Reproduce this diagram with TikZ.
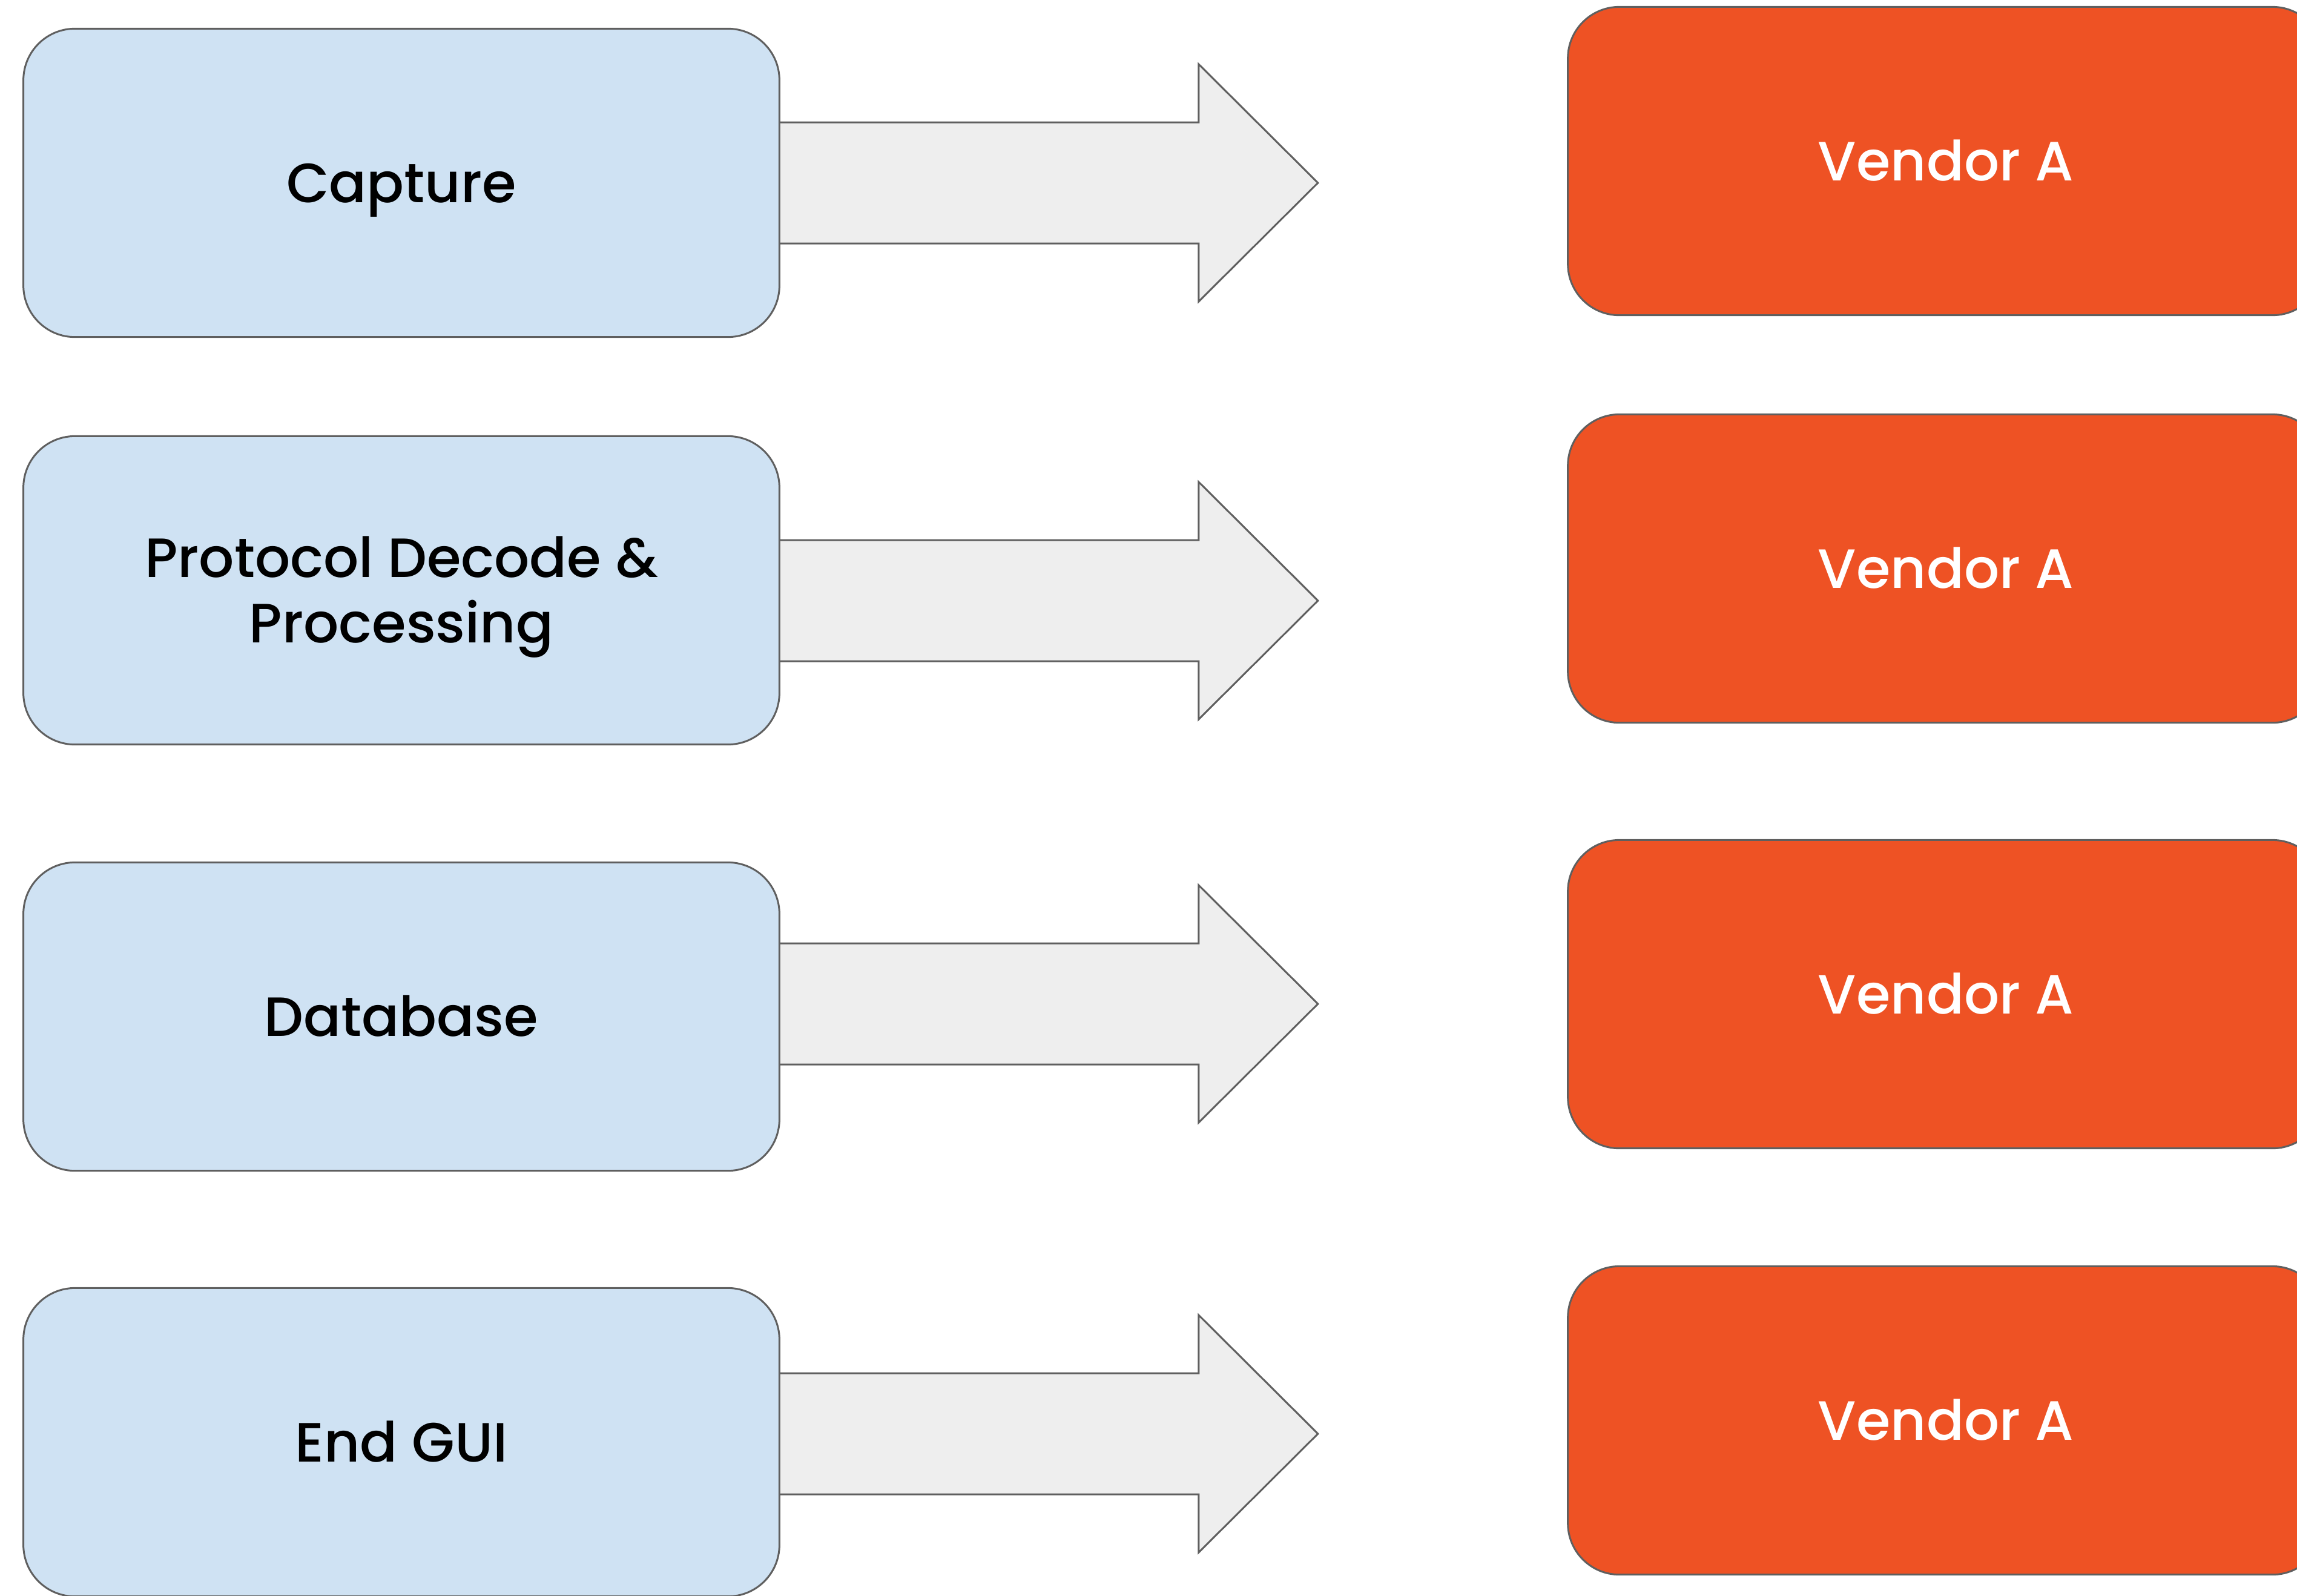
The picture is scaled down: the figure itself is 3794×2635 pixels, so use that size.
\documentclass[tikz,border=0pt]{standalone}
\usepackage{fontspec}
\setmainfont{Poppins}[UprightFont=* Medium]
\usepackage{tikz}
\usetikzlibrary{calc,positioning}
\usepackage{xcolor}
\definecolor{stageblue}{HTML}{CFE2F3}
\definecolor{vendorred}{HTML}{EE5224}
\definecolor{arrowgray}{HTML}{EEEEEE}
\definecolor{linegray}{HTML}{5F5F5F}
\tikzset{
  stage/.style={draw=linegray,fill=stageblue,line width=0.85pt,rounded corners=0.85cm,
    minimum width=12.48cm,minimum height=5.09cm,align=center,
    text height=0.65cm,text depth=0pt,
    font=\fontsize{26}{30.7}\selectfont},
  vendor/.style={stage,fill=vendorred,text=white},
  blockarrow/.style={draw=linegray,fill=arrowgray,line width=0.85pt,line join=miter}
}

\begin{document}
\begin{tikzpicture}[x=0.01cm,y=-0.01cm]
  \useasboundingbox (0,0) rectangle (3794,2635);
  % pipeline stages
  \node[stage] (cap) at (663,302) {Capture};
  \node[stage,text height=1.73cm] (proto) at (663,975) {Protocol Decode \&\\Processing};
  \node[stage] (db) at (663,1679) {Database};
  \node[stage] (gui) at (663,2382) {End GUI};
  % vendors
  \node[vendor] (vendA) at (3214,266) {Vendor A};
  \node[vendor] (vendB) at (3214,939) {Vendor A};
  \node[vendor] (vendC) at (3214,1642) {Vendor A};
  \node[vendor] (vendD) at (3214,2346) {Vendor A};
  % block arrows
  \foreach \b/\d in {cap/0,proto/17,db/-21,gui/-14}
    \draw[blockarrow] ($(\b.east)+(0,\d-100)$) -- ++(691,0) -- ++(0,-96)
      -- ++(197,196) -- ++(-197,196) -- ++(0,-96) -- ($(\b.east)+(0,\d+100)$);
\end{tikzpicture}
\end{document}
